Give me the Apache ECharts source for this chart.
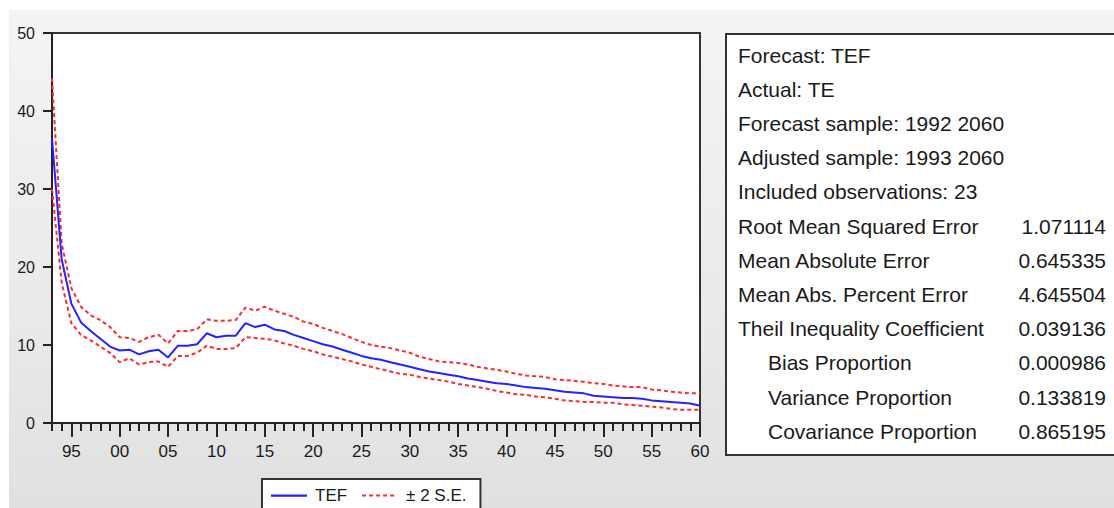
<!DOCTYPE html>
<html>
<head>
<meta charset="utf-8">
<script src="https://cdn.jsdelivr.net/npm/echarts@6/dist/echarts.min.js"></script>
<style>
  html, body { margin: 0; padding: 0; background: #ffffff; }
  #bg { position: absolute; left: 9px; top: 10px; width: 1105px; height: 498px;
        background: linear-gradient(to bottom, #f4f4f4 0%, #eaeaea 60%, #e0e0e0 100%); }
  #chart { position: absolute; left: 0; top: 0; width: 1114px; height: 508px; }
</style>
</head>
<body>
<div id="bg"></div>
<div id="chart"></div>
<script>
// ---- data ----
const years = [1993,1994,1995,1996,1997,1998,1999,2000,2001,2002,2003,2004,2005,2006,2007,2008,2009,2010,
  2011,2012,2013,2014,2015,2016,2017,2018,2019,2020,2021,2022,2023,2024,2025,2026,2027,2028,2029,2030,
  2031,2032,2033,2034,2035,2036,2037,2038,2039,2040,2041,2042,2043,2044,2045,2046,2047,2048,2049,2050,
  2051,2052,2053,2054,2055,2056,2057,2058,2059,2060];

const tef = [36.5,21.0,15.3,12.9,11.8,10.8,9.8,9.3,9.4,8.8,9.2,9.4,8.4,9.9,9.9,10.1,11.5,11.0,
  11.2,11.2,12.8,12.3,12.6,12.0,11.8,11.3,10.9,10.5,10.1,9.8,9.4,9.0,8.6,8.3,8.1,7.8,7.5,7.2,
  6.9,6.6,6.4,6.2,6.0,5.7,5.5,5.3,5.1,5.0,4.8,4.6,4.5,4.4,4.2,4.0,3.9,3.8,3.5,3.4,
  3.3,3.2,3.2,3.1,2.9,2.8,2.7,2.6,2.5,2.2];

const upper = [44.2,23.0,17.3,14.9,13.8,13.2,12.3,11.0,10.9,10.4,11.0,11.3,10.2,11.8,11.8,12.0,13.3,13.1,
  13.1,13.2,14.8,14.4,14.9,14.4,14.0,13.6,13.0,12.7,12.2,11.8,11.4,10.9,10.4,10.0,9.8,9.6,9.3,9.0,
  8.5,8.2,7.9,7.8,7.7,7.5,7.2,7.0,6.8,6.6,6.3,6.1,6.0,5.9,5.6,5.5,5.4,5.3,5.1,5.0,
  4.8,4.7,4.6,4.6,4.3,4.2,4.0,3.9,3.8,3.8];

const lower = [30.0,18.0,12.8,11.3,10.6,9.8,9.0,7.8,8.3,7.5,7.8,7.9,7.2,8.6,8.6,9.0,9.9,9.5,
  9.5,9.6,11.0,10.9,10.8,10.6,10.2,9.9,9.5,9.2,8.8,8.5,8.2,7.9,7.5,7.2,6.9,6.6,6.3,6.2,
  5.9,5.7,5.5,5.3,5.0,4.8,4.6,4.4,4.1,3.9,3.7,3.6,3.4,3.3,3.1,2.9,2.8,2.7,2.7,2.6,
  2.6,2.4,2.3,2.2,2.1,2.0,1.8,1.7,1.7,1.7];

const yTicks = [0, 10, 20, 30, 40, 50];

const statLabels = ['Forecast: TEF', 'Actual: TE', 'Forecast sample: 1992 2060', 'Adjusted sample: 1993 2060',
  'Included observations: 23', 'Root Mean Squared Error', 'Mean Absolute Error', 'Mean Abs. Percent Error',
  'Theil Inequality Coefficient', 'Bias Proportion', 'Variance Proportion', 'Covariance Proportion'];
const statValues = ['', '', '', '', '', '1.071114', '0.645335', '4.645504', '0.039136', '0.000986', '0.133819', '0.865195'];
const statIndent = [false, false, false, false, false, false, false, false, false, true, true, true];

// ---- chart ----
const FONT = '"Liberation Sans", Arial, sans-serif';
const TXT = '#1a1a1a';
const BLUE = '#2323ff';
const RED = '#ff2a2a';

// legend icons: thin solid line / short dashes inside a 36x14 box (tiny corner marks fix the box size)
const BOX = 'M0,0h0.01v0.01h-0.01z M36,14h0.01v0.01h-0.01z ';
const iconSolid = 'path://' + BOX + 'M0,6h36v2.2h-36z';
const iconDash = 'path://' + BOX + 'M0,6h4v2h-4z M7,6h4v2h-4z M14,6h4v2h-4z M21,6h4v2h-4z M28,6h4v2h-4z';

const graphics = [{
  type: 'rect', z: 1,
  shape: { x: 726, y: 34, width: 420, height: 421 },
  style: { fill: '#ffffff', stroke: '#333333', lineWidth: 2 }
}];
statLabels.forEach((s, i) => {
  const y = 55 + i * 34.2;
  graphics.push({ type: 'text', z: 2,
    style: { text: s, x: statIndent[i] ? 768 : 738, y: y, fill: TXT, font: '21px ' + FONT,
             textAlign: 'left', textVerticalAlign: 'middle' } });
  if (statValues[i]) {
    graphics.push({ type: 'text', z: 2,
      style: { text: statValues[i], x: 1106, y: y, fill: TXT, font: '21px ' + FONT,
               textAlign: 'right', textVerticalAlign: 'middle' } });
  }
});

const chart = echarts.init(document.getElementById('chart'), null, { renderer: 'svg' });
chart.setOption({
  animation: false,
  backgroundColor: 'transparent',
  grid: { left: 52, right: 414, top: 33, bottom: 85, show: true, backgroundColor: '#ffffff',
          borderColor: '#333333', borderWidth: 2 },
  legend: {
    data: [
      { name: 'TEF', icon: iconSolid, itemStyle: { color: BLUE, borderWidth: 0 } },
      { name: '± 2 S.E.', icon: iconDash, itemStyle: { color: RED, borderWidth: 0 } }
    ],
    left: 262, top: 479,
    itemWidth: 36, itemHeight: 14, itemGap: 15,
    padding: [8, 14, 24, 9],
    backgroundColor: '#ffffff', borderColor: '#333333', borderWidth: 2, borderRadius: 0,
    textStyle: { fontFamily: FONT, fontSize: 17, color: TXT, padding: [0, 0, 0, 3] }
  },
  xAxis: [{
    type: 'category', data: years, boundaryGap: false,
    axisLine: { show: true, lineStyle: { color: '#222222', width: 2 } },
    axisTick: { show: true, interval: 0, length: 8, inside: false, lineStyle: { color: '#222222', width: 2 } },
    axisLabel: { interval: (idx, val) => Number(val) % 5 === 0,
                 formatter: v => String(v).slice(2), margin: 20,
                 fontFamily: FONT, fontSize: 17, color: TXT },
    splitLine: { show: false }
  }, {
    type: 'category', data: years, boundaryGap: false, position: 'bottom',
    axisLine: { show: false },
    axisTick: { show: true, interval: (idx, val) => Number(val) % 5 === 0, length: 14,
                lineStyle: { color: '#222222', width: 2 } },
    axisLabel: { show: false },
    splitLine: { show: false }
  }],
  yAxis: {
    type: 'value', min: yTicks[0], max: yTicks[yTicks.length - 1], interval: 10,
    axisLine: { show: true, lineStyle: { color: '#222222', width: 2 } },
    axisTick: { show: true, length: 9, lineStyle: { color: '#222222', width: 2 } },
    axisLabel: { margin: 17, fontFamily: FONT, fontSize: 16, color: TXT },
    splitLine: { show: false }
  },
  series: [
    { name: '± 2 S.E.', type: 'line', data: upper, symbol: 'none', silent: true,
      lineStyle: { color: RED, width: 2, type: [4, 3] }, itemStyle: { color: RED } },
    { name: '± 2 S.E.', type: 'line', data: lower, symbol: 'none', silent: true,
      lineStyle: { color: RED, width: 2, type: [4, 3] }, itemStyle: { color: RED } },
    { name: 'TEF', type: 'line', data: tef, symbol: 'none', silent: true, z: 3,
      lineStyle: { color: BLUE, width: 2 }, itemStyle: { color: BLUE } }
  ],
  graphic: graphics
});
</script>
</body>
</html>
